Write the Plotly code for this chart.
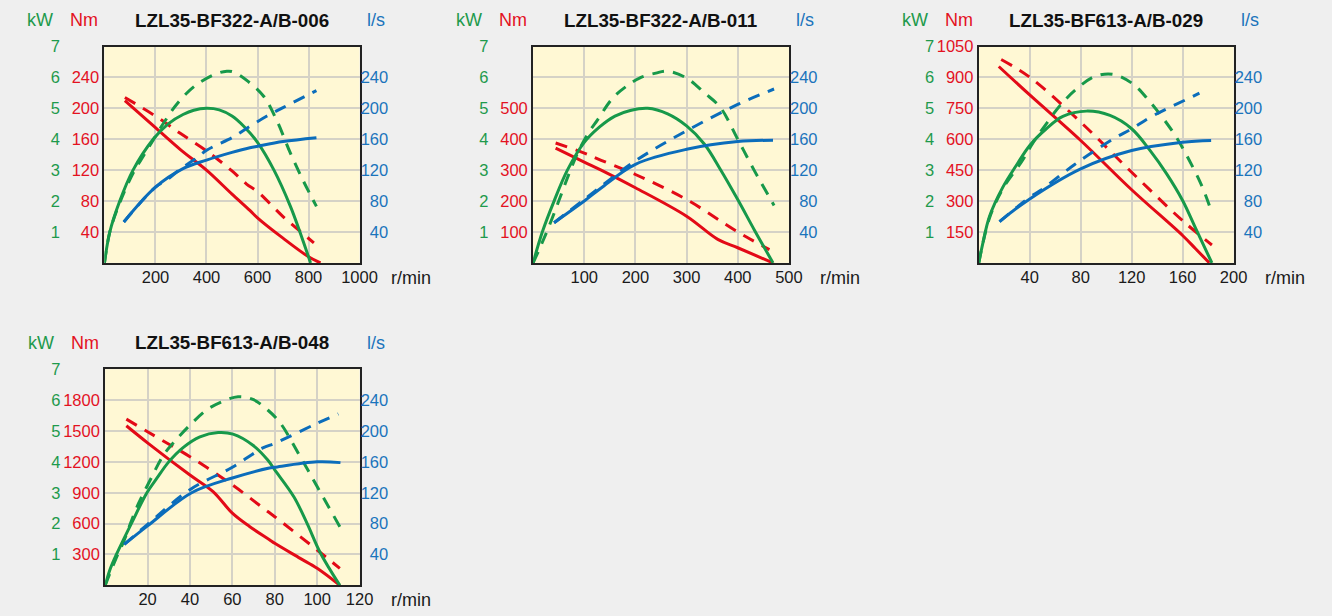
import plotly.graph_objects as go

W, H = 1332, 616

# ---------------- data ----------------
titles = ["LZL35-BF322-A/B-006", "LZL35-BF322-A/B-011", "LZL35-BF613-A/B-029", "LZL35-BF613-A/B-048"]

x_max = [1000, 500, 200, 120]
x_ticks = [[200, 400, 600, 800, 1000], [100, 200, 300, 400, 500],
           [40, 80, 120, 160, 200], [20, 40, 60, 80, 100, 120]]
nm_max = [280, 700, 1050, 2100]
nm_ticks = [[40, 80, 120, 160, 200, 240], [100, 200, 300, 400, 500],
            [150, 300, 450, 600, 750, 900, 1050], [300, 600, 900, 1200, 1500, 1800]]
kw_ticks = [1, 2, 3, 4, 5, 6, 7]
ls_ticks = [40, 80, 120, 160, 200, 240]

# Panel 1: LZL35-BF322-A/B-006
p1_kw_rpm = [0, 21, 60, 112, 191, 250, 308, 350, 400, 450, 500, 546, 600, 664, 729, 768, 808]
p1_kw = [0, 1.0, 2.0, 3.0, 4.0, 4.5, 4.8, 4.94, 5.0, 4.95, 4.75, 4.42, 3.9, 3.01, 1.83, 0.96, 0]
p1_kw2_rpm = [0, 21, 60, 112, 152, 187, 230, 285, 354, 439, 480, 505, 563, 624, 677, 729, 781, 831]
p1_kw2 = [0, 1.0, 1.95, 2.9, 3.45, 3.92, 4.5, 5.15, 5.72, 6.12, 6.2, 6.18, 5.87, 5.39, 4.58, 3.55, 2.63, 1.83]
p1_nm_rpm = [80, 200, 300, 400, 500, 570, 601, 700, 800, 847]
p1_nm = [210, 175, 146, 120, 89, 68, 58, 32, 8, 0]
p1_nm2_rpm = [80, 200, 300, 400, 500, 557, 601, 700, 821]
p1_nm2 = [214, 190, 167, 145, 119, 102, 92, 60, 26]
p1_ls_rpm = [76, 200, 308, 400, 500, 570, 601, 700, 831]
p1_ls = [53, 98, 122, 133, 143, 149, 151, 157, 162]
p1_ls2_rpm = [76, 200, 243, 300, 354, 402, 505, 557, 637, 700, 831]
p1_ls2 = [53, 98, 107, 122, 134, 146, 163, 174, 190, 201, 223]

# Panel 2: LZL35-BF322-A/B-011
p2_kw_rpm = [0, 18, 41, 67, 100, 130, 160, 190, 224, 263, 300, 335, 367, 400, 433, 469]
p2_kw = [0, 1.0, 2.0, 3.0, 3.9, 4.4, 4.75, 4.93, 5.0, 4.82, 4.43, 3.84, 3.0, 2.05, 1.05, 0]
p2_kw2_rpm = [0, 15, 31, 51, 70.6, 90, 110, 126, 155.5, 182, 208, 240, 263, 300, 335, 366, 400, 433, 471]
p2_kw2 = [0, 0.55, 1.18, 2.04, 2.9, 3.66, 4.25, 4.63, 5.33, 5.71, 5.98, 6.14, 6.2, 5.98, 5.5, 5.03, 4.0, 2.97, 1.86]
p2_nm_rpm = [44, 100, 133, 200, 300, 361, 400, 469]
p2_nm = [371, 326, 300, 243, 151, 76, 49, 0]
p2_nm2_rpm = [44, 100, 133, 200, 300, 400, 462]
p2_nm2 = [388, 355, 332, 286, 205, 100, 43]
p2_ls_rpm = [41, 100, 133, 200, 300, 400, 469]
p2_ls = [52, 80, 97, 127.6, 147, 157, 158.7]
p2_ls2_rpm = [41, 100, 200, 300, 400, 471]
p2_ls2 = [52, 82, 132, 171, 205, 225]

# Panel 3: LZL35-BF613-A/B-029
p3_kw_rpm = [0, 3, 8.4, 18.9, 29.4, 40, 53, 66, 84.5, 103, 120, 134.4, 147.5, 160, 171, 183]
p3_kw = [0, 0.6, 1.5, 2.45, 3.15, 3.8, 4.34, 4.74, 4.91, 4.77, 4.34, 3.64, 2.88, 2.02, 1.05, 0]
p3_kw2_rpm = [0, 8.4, 18.9, 34, 42.5, 53, 64, 76, 91, 105.5, 121, 134, 145, 155, 164.6, 175, 181]
p3_kw2 = [0, 1.45, 2.4, 3.3, 3.88, 4.5, 5.1, 5.6, 6.03, 6.1, 5.79, 5.23, 4.66, 4.07, 3.37, 2.5, 1.86]
p3_nm_rpm = [15.7, 40, 80, 120, 160, 170, 181]
p3_nm = [953, 815, 594, 355, 133, 70, 0]
p3_nm2_rpm = [17.6, 40, 80, 120, 160, 183]
p3_nm2 = [987, 901, 683, 440, 205, 87]
p3_ls_rpm = [16.3, 40, 80, 120, 160, 182.4]
p3_ls = [53.5, 82.8, 121.7, 145.4, 156.2, 158.4]
p3_ls2_rpm = [16.3, 40, 48.3, 75, 105.5, 120, 135.7, 168.5, 173.2]
p3_ls2 = [53.5, 85, 93.6, 127, 160.5, 173.5, 189.4, 215.8, 219.6]

# Panel 4: LZL35-BF613-A/B-048
p4_kw_rpm = [0, 2.5, 5.3, 12.7, 19.7, 24.4, 30, 36.9, 44.7, 53.3, 60.3, 69.7, 76.7, 80, 89, 95.3, 101.6, 110.7]
p4_kw = [0, 0.55, 1.0, 2.05, 3.0, 3.47, 4.0, 4.47, 4.81, 4.95, 4.9, 4.54, 4.06, 3.74, 2.87, 2.0, 1.04, 0]
p4_kw2_rpm = [0, 5, 8.75, 11.9, 15.8, 21.25, 27.5, 32.2, 40, 47.8, 54.8, 62.7, 69.7, 76.7, 82.7, 92, 100, 110.7]
p4_kw2 = [0, 0.85, 1.42, 2.0, 2.66, 3.41, 4.22, 4.62, 5.19, 5.68, 5.94, 6.11, 6.02, 5.68, 5.25, 4.17, 3.2, 1.9]
p4_nm_rpm = [10, 20, 40, 50.9, 60, 68.1, 77.5, 80, 92, 100, 110.7]
p4_nm = [1551, 1385, 1072, 911, 701, 572, 443, 408, 262, 165, 0]
p4_nm2_rpm = [10, 20, 40, 60, 76.7, 80, 100, 110.7]
p4_nm2 = [1615, 1492, 1250, 976, 717, 667, 343, 165]
p4_ls_rpm = [9, 20, 40.8, 60, 77.5, 80, 100, 111]
p4_ls = [53, 77, 120, 139, 152, 153, 160, 159]
p4_ls2_rpm = [9, 20, 40, 60, 74.4, 80, 100, 110]
p4_ls2 = [53, 79, 124, 153, 178, 184, 210, 222]

panels_data = [
    (p1_kw_rpm, p1_kw, p1_kw2_rpm, p1_kw2, p1_nm_rpm, p1_nm, p1_nm2_rpm, p1_nm2, p1_ls_rpm, p1_ls, p1_ls2_rpm, p1_ls2),
    (p2_kw_rpm, p2_kw, p2_kw2_rpm, p2_kw2, p2_nm_rpm, p2_nm, p2_nm2_rpm, p2_nm2, p2_ls_rpm, p2_ls, p2_ls2_rpm, p2_ls2),
    (p3_kw_rpm, p3_kw, p3_kw2_rpm, p3_kw2, p3_nm_rpm, p3_nm, p3_nm2_rpm, p3_nm2, p3_ls_rpm, p3_ls, p3_ls2_rpm, p3_ls2),
    (p4_kw_rpm, p4_kw, p4_kw2_rpm, p4_kw2, p4_nm_rpm, p4_nm, p4_nm2_rpm, p4_nm2, p4_ls_rpm, p4_ls, p4_ls2_rpm, p4_ls2),
]

# ---------------- style ----------------
GREEN = "#17994a"
RED = "#e30a17"
BLUE = "#0b6dbb"
GREEN_T = "#1e9a4c"
RED_T = "#e3121f"
BLUE_T = "#1a74bc"
FONT = "Liberation Sans, Arial, sans-serif"
TICK_SIZE = 16.5
LABEL_SIZE = 18
TITLE_SIZE = 18.8
DASH = "12px,9px"
LW = 3

# target plot-area boxes in screen pixels: left, right, top, bottom
boxes = [(104.3, 359.0, 46.7, 263.0), (532.3, 787.7, 46.7, 263.0),
         (977.3, 1231.7, 46.7, 263.0), (105.0, 359.0, 369.3, 585.3)]

# mapping from target screen pixels to figure pixels (measured from a render)
SC = 0.985
OY = 9.2

def fx(t):
    return t / SC

def fy(t):
    return (t - OY) / SC

def px(t):
    return fx(t) / W

def py(t):
    return 1 - fy(t) / H

fig = go.Figure()
layout = {}
annotations = []

for i, (box, d) in enumerate(zip(boxes, panels_data)):
    L, R, T, B = box
    xi = i + 1
    yb = 3 * i + 1   # Nm (base)
    yk = 3 * i + 2   # kW
    yl = 3 * i + 3   # l/s
    xname = "x" if xi == 1 else f"x{xi}"
    ybn = "y" if yb == 1 else f"y{yb}"
    ykn = f"y{yk}"
    yln = f"y{yl}"
    xkey = "xaxis" if xi == 1 else f"xaxis{xi}"
    ybkey = "yaxis" if yb == 1 else f"yaxis{yb}"

    layout[xkey] = dict(domain=[px(L), px(R)], anchor=ybn, range=[0, x_max[i]],
                        tickvals=x_ticks[i], showgrid=True, gridcolor="#d5d2c6", gridwidth=1.5,
                        zeroline=False, showline=True, mirror=True, linecolor="#222222",
                        linewidth=2, ticks="", ticklabelstandoff=-2,
                        tickfont=dict(size=TICK_SIZE, color="#1a1a1a", family=FONT))
    layout[ybkey] = dict(domain=[py(B), py(T)], anchor=xname, range=[0, nm_max[i]],
                         tickvals=nm_ticks[i], showgrid=False, zeroline=False, showline=True,
                         mirror=True, linecolor="#222222", linewidth=2, ticks="",
                         tickfont=dict(size=TICK_SIZE, color=RED_T, family=FONT))
    layout[f"yaxis{yk}"] = dict(overlaying=ybn, anchor="free", position=(fx(L - 47) + 2.5) / W, side="left",
                                range=[0, 7], tickvals=kw_ticks, showgrid=True, gridcolor="#d5d2c6",
                                gridwidth=1.5, zeroline=False, showline=False, ticks="",
                                tickfont=dict(size=TICK_SIZE, color=GREEN_T, family=FONT))
    layout[f"yaxis{yl}"] = dict(overlaying=ybn, anchor="free", position=px(R + 31.6), side="right",
                                ticklabelposition="inside", range=[0, 280], tickvals=ls_ticks,
                                showgrid=False, zeroline=False, showline=False, ticks="",
                                tickfont=dict(size=TICK_SIZE, color=BLUE_T, family=FONT))

    (kr, kv, kr2, kv2, nr, nv, nr2, nv2, lr, lv, lr2, lv2) = d
    fig.add_trace(go.Scatter(x=lr2, y=lv2, mode="lines", line=dict(color=BLUE, width=LW, dash=DASH, shape="spline"),
                             xaxis=xname, yaxis=yln, showlegend=False))
    fig.add_trace(go.Scatter(x=lr, y=lv, mode="lines", line=dict(color=BLUE, width=LW, shape="spline"),
                             xaxis=xname, yaxis=yln, showlegend=False))
    fig.add_trace(go.Scatter(x=kr2, y=kv2, mode="lines", line=dict(color=GREEN, width=LW, dash=DASH, shape="spline"),
                             xaxis=xname, yaxis=ykn, showlegend=False))
    fig.add_trace(go.Scatter(x=kr, y=kv, mode="lines", line=dict(color=GREEN, width=LW, shape="spline"),
                             xaxis=xname, yaxis=ykn, showlegend=False))
    fig.add_trace(go.Scatter(x=nr2, y=nv2, mode="lines", line=dict(color=RED, width=LW, dash=DASH, shape="spline"),
                             xaxis=xname, yaxis=ybn, showlegend=False))
    fig.add_trace(go.Scatter(x=nr, y=nv, mode="lines", line=dict(color=RED, width=LW, shape="spline"),
                             xaxis=xname, yaxis=ybn, showlegend=False))

    ty = T - 26.3
    annotations += [
        dict(text=f"<b>{titles[i]}</b>", x=px((L + R) / 2), y=py(ty), xref="paper", yref="paper",
             xanchor="center", yanchor="middle", showarrow=False,
             font=dict(size=TITLE_SIZE, color="#111111", family=FONT)),
        dict(text="kW", x=px(L - 64), y=py(ty), xref="paper", yref="paper", xanchor="center",
             yanchor="middle", showarrow=False, font=dict(size=LABEL_SIZE, color=GREEN_T, family=FONT)),
        dict(text="Nm", x=px(L - 20), y=py(ty), xref="paper", yref="paper", xanchor="center",
             yanchor="middle", showarrow=False, font=dict(size=LABEL_SIZE, color=RED_T, family=FONT)),
        dict(text="l/s", x=px(R + 16.5), y=py(ty), xref="paper", yref="paper", xanchor="center",
             yanchor="middle", showarrow=False, font=dict(size=LABEL_SIZE, color=BLUE_T, family=FONT)),
        dict(text="r/min", x=px(R + 29), y=py(B + 14.7), xref="paper", yref="paper", xanchor="left",
             yanchor="middle", showarrow=False, font=dict(size=LABEL_SIZE, color="#1a1a1a", family=FONT)),
    ]

fig.update_layout(
    width=W, height=H, margin=dict(l=0, r=0, t=0, b=0, pad=0),
    paper_bgcolor="#efefef", plot_bgcolor="#fff8d4",
    font=dict(family=FONT, size=TICK_SIZE),
    annotations=annotations, showlegend=False,
    **layout,
)

post = ("document.body.style.margin='0';document.body.style.padding='0';"
        "document.body.style.background='#efefef';"
        "document.documentElement.style.background='#efefef';"
        "document.documentElement.style.overflow='hidden';"
        "var g=document.getElementById('{plot_id}');"
        "g.style.position='absolute';g.style.left='0px';g.style.top='0px';")

fig.write_html("out.html", post_script=post, config={"displayModeBar": False})
